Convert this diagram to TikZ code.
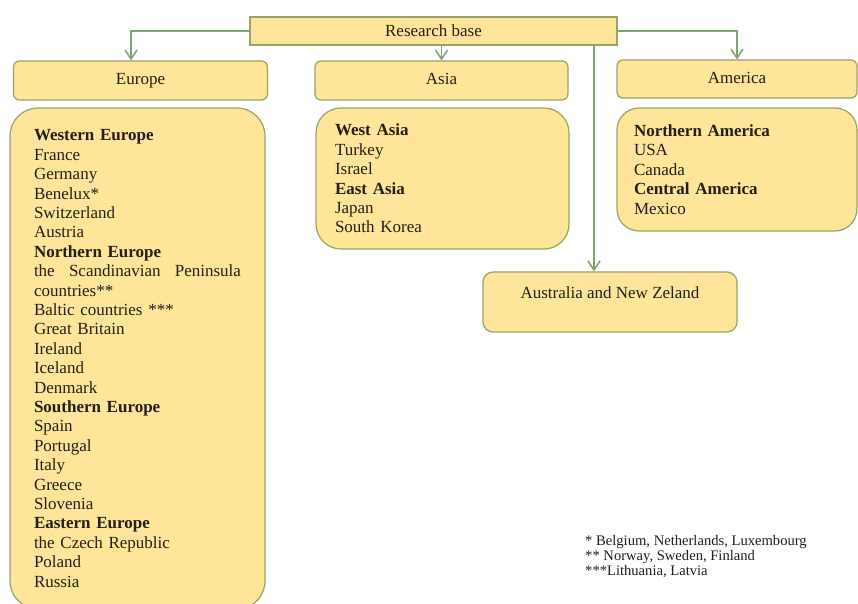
\documentclass[tikz,border=0pt]{standalone}
\usepackage{fontspec}
\setmainfont{Liberation Serif}
\usetikzlibrary{arrows.meta}
\definecolor{boxfill}{RGB}{255,229,153}
\definecolor{boxline}{RGB}{150,165,100}
\definecolor{arrowc}{RGB}{125,165,110}
\definecolor{txt}{RGB}{35,30,25}
\begin{document}
\begin{tikzpicture}[x=1pt,y=-1pt,
  every node/.style={font=\fontsize{17}{19.4}\selectfont, text=txt},
  hbox/.style={draw=boxline, fill=boxfill, line width=1.2pt, rounded corners=6pt, inner sep=0pt},
  listbox/.style={draw=boxline, fill=boxfill, line width=1.2pt, inner sep=0pt, align=left},
  conn/.style={draw=arrowc, line width=1.5pt},
  tip/.style={-{Straight Barb[length=9pt,width=12pt]}}]
\useasboundingbox (0,0) rectangle (858,603);
\fill[white] (0,0) rectangle (858,603);
% top level
\node[hbox, rounded corners=0pt, minimum width=367pt, text height=19pt, text depth=9pt] (rb) at (433.5,31) {Research base};
\node[hbox, minimum width=254pt, text height=23pt, text depth=16pt] (eu) at (140.5,80.5) {Europe};
\node[hbox, minimum width=253pt, text height=23pt, text depth=16pt] (as) at (441.5,80.5) {Asia};
\node[hbox, minimum width=240pt, text height=23pt, text depth=15pt] (am) at (737,79) {America};
% lists
\node[listbox, rounded corners=28pt, minimum width=255pt, minimum height=501pt, text width=207pt] (eul) at (137.5,358.5)
 {\textbf{Western Europe}\\France\\Germany\\Benelux*\\Switzerland\\Austria\\
  \textbf{Northern Europe}\\\leavevmode\hbox to 207pt{the\hfill Scandinavian\hfill Peninsula}\\countries**\\Baltic countries ***\\Great Britain\\Ireland\\Iceland\\Denmark\\
  \textbf{Southern Europe}\\Spain\\Portugal\\Italy\\Greece\\Slovenia\\
  \textbf{Eastern Europe}\\the Czech Republic\\Poland\\Russia};
\node[listbox, rounded corners=25pt, minimum width=253pt, minimum height=141pt, text width=215pt] (asl) at (442.5,178.5)
 {\textbf{West Asia}\\Turkey\\Israel\\\textbf{East Asia}\\Japan\\South Korea};
\node[listbox, rounded corners=22pt, minimum width=240pt, minimum height=123pt, text width=206pt] (aml) at (737,169.5)
 {\textbf{Northern America}\\USA\\Canada\\\textbf{Central America}\\Mexico};
\node[hbox, rounded corners=10pt, minimum width=254pt, text height=26pt, text depth=34pt] (aus) at (610,302) {Australia and New Zeland};
% footnotes
\node[anchor=north west, inner sep=0pt, align=left, font=\fontsize{14.6}{15}\selectfont] (fn) at (585,535)
 {* Belgium, Netherlands, Luxembourg\\** Norway, Sweden, Finland\\***Lithuania, Latvia};
% connectors
\coordinate (vx) at (594,0);
\draw[conn,tip] (rb.west) -| ([xshift=-9.5pt]eu.north);
\draw[conn,tip] (rb.south -| as.north) -- (as.north);
\draw[conn,tip] (rb.south -| vx) -- (aus.north -| vx);
\draw[conn,tip] (rb.east) -| (am.north);
\end{tikzpicture}
\end{document}
